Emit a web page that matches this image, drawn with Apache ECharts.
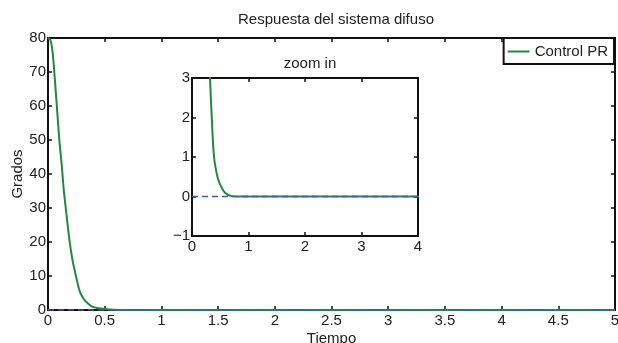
<!DOCTYPE html>
<html>
<head>
<meta charset="utf-8">
<script src="https://cdn.jsdelivr.net/npm/echarts@6/dist/echarts.min.js"></script>
<style>
  html, body { margin: 0; padding: 0; background: #fff; }
  #chart { width: 618px; height: 343px; }
</style>
</head>
<body>
<div id="chart"></div>
<script>
// respuesta del controlador PR (tiempo, grados)
const tiempo = [0, 0.02, 0.04, 0.06, 0.08, 0.1, 0.12, 0.14, 0.16, 0.18, 0.2, 0.22, 0.25, 0.28, 0.32, 0.35, 0.39, 0.45, 0.5, 0.58, 0.7, 0.8, 1.0, 5]
const grados = [80, 79.5, 76, 68, 59, 50, 43, 35, 29, 23, 18, 14, 9.5, 5.5, 3, 2, 1, 0.5, 0.3, 0.1, 0.01, 0, 0, 0]

// referencia (linea discontinua)
const refTiempo = [0, 5]
const refGrados = [0, 0]
const refTiempoZoom = [0, 4]
const refGradosZoom = [0, 0]

const pairs = (xs, ys) => xs.map((x, i) => [x, ys[i]])

const font = 'Liberation Sans, Arial, sans-serif'
const green = '#1f8a3c'
const blue = '#3d5db3'
const axisLine = { show: true, onZero: false, lineStyle: { color: '#111', width: 2 } }
const tickIn = { show: true, inside: true, length: 4, lineStyle: { color: '#111', width: 1.5 } }
const label = { color: '#222', fontSize: 15, fontFamily: font, margin: 3 }
const minus = v => String(v).replace('-', '\u2212')
const txt = { fontSize: 15, fontWeight: 'normal', color: '#222', fontFamily: font }

const chart = echarts.init(document.getElementById('chart'))
chart.setOption({
  animation: false,
  backgroundColor: '#fff',
  title: [
    { text: 'Respuesta del sistema difuso', left: 331, top: 7, textAlign: 'center', textStyle: txt },
    { text: 'zoom in', left: 305, top: 51, textAlign: 'center', textStyle: txt }
  ],
  legend: {
    data: ['Control PR'],
    right: 4, top: 38,
    icon: 'rect',
    backgroundColor: '#fff',
    borderColor: '#111', borderWidth: 2, borderRadius: 0,
    padding: [6, 6, 5, 4],
    itemWidth: 22, itemHeight: 2, itemGap: 4,
    textStyle: { fontSize: 15, color: '#222', fontFamily: font }
  },
  grid: [
    { left: 48, top: 38, width: 567, height: 272, outerBoundsMode: 'none', show: true, borderColor: '#111', borderWidth: 2, backgroundColor: '#fff' },
    { left: 192, top: 78, width: 226, height: 158, outerBoundsMode: 'none', show: true, borderColor: '#111', borderWidth: 2, backgroundColor: '#fff' }
  ],
  xAxis: [
    { type: 'value', gridIndex: 0, min: 0, max: 5, interval: 0.5,
      name: 'Tiempo', nameLocation: 'middle', nameGap: 21, nameMoveOverlap: false, nameTextStyle: txt,
      axisLine, axisTick: tickIn, axisLabel: label, splitLine: { show: false } },
    { type: 'value', gridIndex: 0, position: 'top', min: 0, max: 5, interval: 0.5,
      axisLine, axisTick: tickIn, axisLabel: { show: false }, splitLine: { show: false } },
    { type: 'value', gridIndex: 1, min: 0, max: 4, interval: 1,
      axisLine, axisTick: tickIn, axisLabel: label, splitLine: { show: false } },
    { type: 'value', gridIndex: 1, position: 'top', min: 0, max: 4, interval: 1,
      axisLine, axisTick: tickIn, axisLabel: { show: false }, splitLine: { show: false } }
  ],
  yAxis: [
    { type: 'value', gridIndex: 0, min: 0, max: 80, interval: 10,
      name: 'Grados', nameLocation: 'middle', nameGap: 23, nameMoveOverlap: false, nameTextStyle: txt,
      axisLine, axisTick: tickIn, axisLabel: { ...label, margin: 2 }, splitLine: { show: false } },
    { type: 'value', gridIndex: 0, position: 'right', min: 0, max: 80, interval: 10,
      axisLine, axisTick: tickIn, axisLabel: { show: false }, splitLine: { show: false } },
    { type: 'value', gridIndex: 1, min: -1, max: 3, interval: 1,
      axisLine, axisTick: tickIn, axisLabel: { ...label, margin: 2, formatter: minus }, splitLine: { show: false } },
    { type: 'value', gridIndex: 1, position: 'right', min: -1, max: 3, interval: 1,
      axisLine, axisTick: tickIn, axisLabel: { show: false }, splitLine: { show: false } }
  ],
  series: [
    { name: 'Control PR', type: 'line', xAxisIndex: 0, yAxisIndex: 0, data: pairs(tiempo, grados),
      smooth: 0.3, symbol: 'none', lineStyle: { color: green, width: 2 }, itemStyle: { color: green } },
    { name: 'Referencia', type: 'line', xAxisIndex: 0, yAxisIndex: 0, data: pairs(refTiempo, refGrados),
      symbol: 'none', lineStyle: { color: blue, width: 1.5, type: [6, 4] }, z: 3 },
    { name: 'Control PR', type: 'line', xAxisIndex: 2, yAxisIndex: 2, data: pairs(tiempo, grados),
      smooth: 0.3, symbol: 'none', clip: true, lineStyle: { color: green, width: 2 }, itemStyle: { color: green } },
    { name: 'Referencia', type: 'line', xAxisIndex: 2, yAxisIndex: 2, data: pairs(refTiempoZoom, refGradosZoom),
      symbol: 'none', lineStyle: { color: blue, width: 1.5, type: [6, 4] }, z: 3 }
  ]
})
</script>
</body>
</html>
